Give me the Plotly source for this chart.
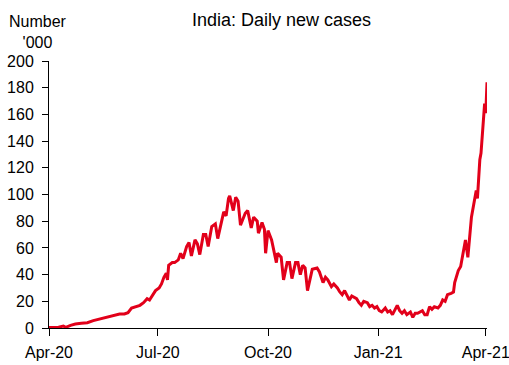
import pandas as pd
import plotly.graph_objects as go

# Data (thousands of daily new cases)
start_date = "2020-04-01"
day_offset = [0, 4, 8, 12, 14, 18, 22, 27, 32, 37, 43, 47, 51, 55, 59, 63, 66, 69, 73, 76,
              79, 82, 84, 87, 89, 92, 94, 96, 98, 99, 100, 103, 105, 108, 110, 112, 115, 117, 119, 122,
              124, 126, 129, 131, 133, 136, 139, 141, 145, 146, 148, 150, 151, 154, 156, 158, 160, 164, 166, 169,
              171, 174, 175, 178, 180, 181, 183, 186, 190, 191, 194, 196, 199, 201, 203, 206, 208, 210, 212, 214,
              216, 220, 224, 226, 229, 231, 233, 236, 238, 241, 243, 245, 247, 249, 251, 253, 255, 257, 259, 261,
              263, 266, 268, 270, 272, 274, 276, 278, 281, 283, 285, 287, 291, 293, 295, 297, 299, 302, 304, 306,
              308, 310, 312, 314, 316, 318, 320, 322, 325, 327, 329, 331, 333, 336, 338, 339, 342, 344, 346, 348,
              350, 352, 353, 355, 357, 358, 359, 360, 361, 362, 363, 364, 365, 366]
cases_k = [0.3, 0.5, 0.6, 1.5, 0.5, 2, 3, 3.5, 4, 5.5, 7, 7.5, 8.5, 10, 10.5, 10.5, 11.5, 15, 16, 17,
           19, 22, 21, 25, 28, 30, 33, 38, 41, 36, 47, 49, 49, 51, 56, 52, 61, 64, 54, 66,
           63, 55, 70, 70, 61, 76, 78, 67, 83, 87, 84, 97, 99, 88, 98, 95, 77, 86, 88, 75,
           83, 80, 71, 79, 74, 56, 73, 66, 49, 56, 53, 36, 49, 49, 37, 49, 49, 40, 47, 45,
           28, 44, 45, 42, 34, 38, 36, 31, 33, 30, 27, 25, 28, 25, 21, 24, 23, 22, 19, 17,
           20, 19, 16, 17, 15, 16, 13, 12, 15, 12, 13, 10, 17, 13, 11, 13, 10, 12, 8, 11,
           11, 12, 13, 10, 10, 16, 14, 16, 15, 17, 21, 20, 25, 26, 27, 34, 43, 46, 57, 66,
           53, 73, 83, 93, 103, 97, 115, 126, 131, 145, 152, 168, 161, 184]

tick_dates = ["2020-04-01", "2020-07-01", "2020-10-01", "2021-01-01", "2021-04-01"]
tick_labels = ["Apr-20", "Jul-20", "Oct-20", "Jan-21", "Apr-21"]

dates = pd.to_datetime(start_date) + pd.to_timedelta(day_offset, unit="D")

FONT = "Liberation Sans, Arial, sans-serif"

fig = go.Figure(
    go.Scatter(x=dates, y=cases_k, mode="lines",
               line=dict(color="#E2001A", width=3), hoverinfo="x+y")
)

fig.update_layout(
    width=509, height=365,
    margin=dict(l=49, r=22, t=61, b=37, autoexpand=False),
    paper_bgcolor="white", plot_bgcolor="white",
    showlegend=False,
    font=dict(family=FONT, size=16, color="black"),
    annotations=[
        dict(text="India: Daily new cases", xref="paper", yref="paper",
             x=0.53, y=1.152, xanchor="center", yanchor="middle",
             showarrow=False, font=dict(size=18, family=FONT, color="black")),
        dict(text="Number<br>'000", xref="paper", yref="paper",
             x=-0.025, y=1.11, xanchor="center", yanchor="middle", align="center",
             showarrow=False, font=dict(size=16, family=FONT, color="black")),
    ],
)

fig.update_xaxes(
    type="date", range=["2020-04-01", "2021-04-02"],
    tickmode="array", tickvals=tick_dates, ticktext=tick_labels,
    ticks="outside", ticklen=7, tickcolor="black", tickwidth=1,
    showline=True, linecolor="black", linewidth=1,
    showgrid=False, zeroline=False, ticklabelstandoff=3, automargin=False,
    ticklabeloverflow="allow",
    tickfont=dict(size=16, color="black"),
)
fig.update_yaxes(
    range=[0, 200], tickmode="linear", tick0=0, dtick=20,
    ticks="outside", ticklen=6, tickcolor="black", tickwidth=1,
    showline=True, linecolor="black", linewidth=1,
    showgrid=False, zeroline=False, ticklabelstandoff=5, automargin=False,
    ticklabeloverflow="allow",
    tickfont=dict(size=16, color="black"),
)

fig.write_html("out.html", config={"displayModeBar": False},
               post_script="document.body.style.margin='0';document.body.style.padding='0';")
